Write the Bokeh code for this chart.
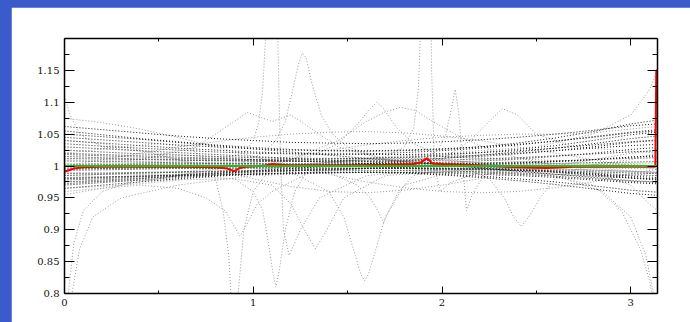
from bokeh.plotting import figure
from bokeh.models import Range1d, FixedTicker, LinearAxis, NumeralTickFormatter, GlobalInlineStyleSheet
from bokeh.embed import file_html
from bokeh.resources import INLINE

# ---------------- data ----------------
x_ticks = [0, 1, 2, 3]
x_minor = [0.5, 1.5, 2.5]
y_ticks = [0.8, 0.85, 0.9, 0.95, 1.0, 1.05, 1.1, 1.15]
y_minor = [0.825, 0.875, 0.925, 0.975, 1.025, 1.075, 1.125, 1.175]

grid_x = [0, 0.2, 0.4, 0.6, 0.8, 1.0, 1.2, 1.4, 1.6, 1.8, 2.0, 2.2, 2.4, 2.6, 2.8, 3.0, 3.1416]

black_1 = [1.062, 1.057, 1.052, 1.047, 1.043, 1.040, 1.037, 1.036, 1.035, 1.036, 1.038, 1.041, 1.045, 1.050, 1.056, 1.063, 1.066]
black_2 = [1.045, 1.041, 1.037, 1.033, 1.030, 1.027, 1.025, 1.024, 1.024, 1.025, 1.027, 1.030, 1.034, 1.039, 1.045, 1.052, 1.055]
black_3 = [1.035, 1.031, 1.028, 1.025, 1.022, 1.020, 1.019, 1.018, 1.019, 1.021, 1.024, 1.028, 1.033, 1.039, 1.046, 1.053, 1.057]
black_4 = [1.025, 1.022, 1.019, 1.017, 1.015, 1.013, 1.012, 1.012, 1.012, 1.013, 1.015, 1.017, 1.020, 1.024, 1.028, 1.032, 1.034]
black_5 = [1.015, 1.013, 1.011, 1.010, 1.009, 1.008, 1.007, 1.007, 1.007, 1.008, 1.009, 1.011, 1.013, 1.016, 1.019, 1.022, 1.024]
black_6 = [1.008, 1.007, 1.006, 1.005, 1.004, 1.004, 1.003, 1.003, 1.003, 1.004, 1.004, 1.005, 1.006, 1.008, 1.010, 1.012, 1.013]
black_7 = [0.993, 0.994, 0.995, 0.996, 0.996, 0.997, 0.997, 0.997, 0.997, 0.997, 0.996, 0.995, 0.994, 0.993, 0.991, 0.989, 0.988]
black_8 = [0.985, 0.987, 0.989, 0.990, 0.991, 0.992, 0.993, 0.993, 0.993, 0.993, 0.992, 0.991, 0.989, 0.987, 0.984, 0.981, 0.980]
black_9 = [0.975, 0.978, 0.981, 0.984, 0.986, 0.988, 0.989, 0.990, 0.990, 0.990, 0.989, 0.987, 0.985, 0.982, 0.978, 0.974, 0.972]
black_10 = [0.970, 0.974, 0.978, 0.982, 0.985, 0.987, 0.989, 0.990, 0.990, 0.989, 0.987, 0.984, 0.980, 0.975, 0.969, 0.962, 0.959]
black_11 = [1.050, 1.046, 1.042, 1.037, 1.032, 1.027, 1.022, 1.017, 1.012, 1.007, 1.002, 0.997, 0.992, 0.987, 0.982, 0.977, 0.975]
black_12 = [0.972, 0.976, 0.980, 0.984, 0.988, 0.992, 0.996, 1.000, 1.004, 1.008, 1.012, 1.017, 1.022, 1.028, 1.035, 1.043, 1.047]
black_13 = [1.020, 1.018, 1.016, 1.014, 1.012, 1.010, 1.008, 1.006, 1.004, 1.002, 1.000, 0.998, 0.995, 0.992, 0.988, 0.984, 0.982]
black_14 = [0.980, 0.982, 0.984, 0.986, 0.988, 0.990, 0.992, 0.994, 0.996, 0.998, 1.000, 1.002, 1.004, 1.007, 1.010, 1.014, 1.016]
black_15 = [1.030, 1.027, 1.024, 1.021, 1.018, 1.015, 1.012, 1.009, 1.007, 1.005, 1.004, 1.004, 1.005, 1.007, 1.010, 1.014, 1.016]
black_16 = [0.995, 0.996, 0.997, 0.998, 0.999, 1.000, 1.001, 1.002, 1.003, 1.004, 1.006, 1.008, 1.011, 1.015, 1.020, 1.026, 1.029]
black_17 = [1.040, 1.036, 1.032, 1.028, 1.025, 1.022, 1.020, 1.019, 1.018, 1.018, 1.019, 1.021, 1.024, 1.028, 1.033, 1.038, 1.041]
black_18 = [1.012, 1.011, 1.010, 1.009, 1.008, 1.008, 1.008, 1.008, 1.009, 1.010, 1.012, 1.015, 1.019, 1.024, 1.030, 1.037, 1.040]
black_19 = [0.988, 0.989, 0.990, 0.991, 0.992, 0.993, 0.994, 0.995, 0.996, 0.996, 0.996, 0.995, 0.993, 0.990, 0.986, 0.981, 0.978]
black_20 = [0.978, 0.980, 0.983, 0.986, 0.989, 0.991, 0.993, 0.995, 0.996, 0.997, 0.997, 0.996, 0.994, 0.991, 0.987, 0.982, 0.979]
black_21 = [1.003, 1.003, 1.003, 1.003, 1.003, 1.003, 1.003, 1.003, 1.003, 1.003, 1.003, 1.003, 1.003, 1.004, 1.005, 1.006, 1.007]
black_22 = [0.997, 0.997, 0.997, 0.997, 0.997, 0.997, 0.997, 0.996, 0.996, 0.996, 0.995, 0.994, 0.993, 0.991, 0.989, 0.986, 0.985]
black_23 = [1.055, 1.049, 1.043, 1.038, 1.033, 1.029, 1.026, 1.024, 1.023, 1.024, 1.026, 1.030, 1.036, 1.044, 1.054, 1.066, 1.072]
black_24 = [0.965, 0.970, 0.975, 0.980, 0.984, 0.987, 0.989, 0.990, 0.990, 0.989, 0.986, 0.982, 0.977, 0.971, 0.964, 0.957, 0.954]
black_25 = [1.018, 1.016, 1.014, 1.012, 1.011, 1.010, 1.010, 1.011, 1.012, 1.014, 1.017, 1.021, 1.026, 1.032, 1.040, 1.049, 1.053]
black_26 = [0.982, 0.983, 0.984, 0.985, 0.986, 0.987, 0.988, 0.989, 0.990, 0.990, 0.990, 0.989, 0.987, 0.984, 0.980, 0.976, 0.974]

gray_1 = [1.075, 1.068, 1.058, 1.045, 1.030, 1.015, 1.000, 0.987, 0.975, 0.966, 0.960, 0.958, 0.960, 0.966, 0.975, 0.988, 0.995]
gray_2 = [0.955, 0.965, 0.975, 0.985, 0.995, 1.005, 1.015, 1.025, 1.033, 1.040, 1.045, 1.048, 1.050, 1.050, 1.052, 1.058, 1.062]
gray_3 = [1.000, 1.010, 1.020, 1.030, 1.038, 1.045, 1.050, 1.053, 1.054, 1.052, 1.047, 1.040, 1.030, 1.020, 1.010, 1.000, 0.995]
gray_4 = [0.965, 0.968, 0.972, 0.978, 0.985, 0.993, 1.000, 1.006, 1.010, 1.012, 1.010, 1.005, 0.998, 0.990, 0.985, 0.985, 0.990]
gray_5 = [1.040, 1.035, 1.025, 1.010, 0.995, 0.980, 0.968, 0.960, 0.958, 0.962, 0.970, 0.980, 0.990, 1.000, 1.010, 1.020, 1.025]

spike_a_x = [0, 0.3, 0.5, 0.65, 0.75, 0.8, 0.84, 0.87, 0.885, 0.9, 0.92, 0.95, 1.0, 1.1, 1.3, 1.6, 2.0, 2.5, 3.1416]
spike_a_y = [1.02, 1.03, 1.035, 1.03, 1.01, 0.98, 0.93, 0.86, 0.78, 0.72, 0.80, 0.90, 0.96, 1.0, 1.02, 1.02, 1.015, 1.01, 1.0]
spike_b_x = [0, 0.4, 0.6, 0.75, 0.85, 0.9, 0.93, 0.96, 1.02, 1.1, 1.3, 1.7, 2.2, 3.1416]
spike_b_y = [0.96, 0.97, 0.965, 0.95, 0.93, 0.905, 0.89, 0.905, 0.94, 0.96, 0.99, 1.0, 1.0, 0.99]
spike_c_x = [0, 0.5, 0.8, 0.95, 1.0, 1.03, 1.05, 1.065, 1.08, 1.12, 1.13, 1.145, 1.16, 1.19, 1.25, 1.35, 1.6, 2.0, 2.6, 3.1416]
spike_c_y = [1.0, 1.005, 1.01, 1.02, 1.04, 1.07, 1.12, 1.2, 1.35, 1.35, 1.2, 1.0, 0.9, 0.86, 0.9, 0.95, 0.985, 0.995, 1.0, 1.0]
spike_d_x = [0, 0.6, 0.9, 1.0, 1.05, 1.08, 1.1, 1.12, 1.14, 1.17, 1.22, 1.3, 1.5, 2.0, 3.1416]
spike_d_y = [0.99, 0.985, 0.98, 0.96, 0.93, 0.88, 0.84, 0.81, 0.84, 0.9, 0.96, 1.0, 1.01, 1.005, 1.0]
spike_e_x = [0, 0.6, 0.9, 1.05, 1.12, 1.17, 1.21, 1.24, 1.26, 1.28, 1.31, 1.36, 1.42, 1.5, 1.7, 2.1, 2.6, 3.1416]
spike_e_y = [0.985, 0.99, 1.0, 1.02, 1.04, 1.07, 1.12, 1.16, 1.177, 1.17, 1.13, 1.08, 1.05, 1.03, 1.01, 1.0, 0.995, 0.99]
spike_f_x = [0, 0.8, 1.2, 1.4, 1.48, 1.53, 1.57, 1.59, 1.61, 1.65, 1.7, 1.8, 2.1, 2.6, 3.1416]
spike_f_y = [1.01, 1.005, 0.99, 0.96, 0.92, 0.87, 0.83, 0.82, 0.83, 0.87, 0.92, 0.97, 0.995, 1.0, 1.005]
spike_g_x = [0, 0.9, 1.1, 1.2, 1.27, 1.33, 1.39, 1.48, 1.7, 2.2, 3.1416]
spike_g_y = [0.975, 0.98, 0.97, 0.94, 0.9, 0.87, 0.9, 0.95, 0.985, 0.995, 1.0]
spike_h_x = [0, 0.8, 1.4, 1.7, 1.8, 1.85, 1.875, 1.89, 1.9, 1.935, 1.945, 1.96, 1.99, 2.05, 2.2, 2.6, 3.1416]
spike_h_y = [1.0, 1.0, 1.005, 1.015, 1.03, 1.06, 1.12, 1.25, 1.4, 1.4, 1.15, 1.0, 0.96, 0.975, 0.99, 0.995, 0.99]
spike_i_x = [0, 1.0, 1.6, 1.9, 1.98, 2.02, 2.05, 2.07, 2.09, 2.11, 2.13, 2.16, 2.22, 2.4, 2.8, 3.1416]
spike_i_y = [1.0, 1.0, 1.005, 1.01, 1.025, 1.05, 1.09, 1.12, 1.08, 1.0, 0.93, 0.955, 0.985, 1.0, 1.0, 1.0]
spike_j_x = [0, 1.0, 1.8, 2.1, 2.25, 2.33, 2.38, 2.42, 2.46, 2.52, 2.6, 2.75, 3.0, 3.1416]
spike_j_y = [0.995, 1.0, 1.005, 1.0, 0.98, 0.95, 0.92, 0.905, 0.92, 0.95, 0.98, 1.0, 1.01, 1.02]
spike_k_x = [0, 1.0, 1.4, 1.55, 1.62, 1.66, 1.69, 1.72, 1.77, 1.85, 2.0, 2.5, 3.1416]
spike_k_y = [1.0, 1.0, 0.99, 0.97, 0.95, 0.93, 0.911, 0.93, 0.96, 0.985, 0.995, 1.0, 1.0]
spike_l_x = [0, 1.0, 1.3, 1.45, 1.55, 1.62, 1.655, 1.69, 1.76, 1.85, 2.0, 2.5, 3.1416]
spike_l_y = [1.0, 1.005, 1.015, 1.035, 1.065, 1.09, 1.10, 1.09, 1.06, 1.035, 1.015, 1.005, 1.0]
spike_m_x = [0, 0.8, 1.2, 1.45, 1.6, 1.7, 1.78, 1.86, 1.95, 2.1, 2.3, 2.6, 3.1416]
spike_m_y = [0.98, 0.99, 1.01, 1.04, 1.07, 1.085, 1.092, 1.087, 1.07, 1.045, 1.02, 1.0, 0.99]
spike_n_x = [0, 0.4, 0.7, 0.85, 0.97, 1.05, 1.1, 1.2, 1.3, 1.45, 1.7, 2.2, 3.1416]
spike_n_y = [1.0, 1.01, 1.03, 1.06, 1.084, 1.075, 1.07, 1.08, 1.06, 1.03, 1.01, 1.0, 0.99]
spike_o_x = [0, 1.5, 2.0, 2.15, 2.25, 2.32, 2.4, 2.5, 2.7, 3.1416]
spike_o_y = [1.0, 1.0, 1.01, 1.04, 1.07, 1.09, 1.08, 1.05, 1.03, 1.02]

edge_l1_x = [0, 0.02, 0.05, 0.1, 0.2, 0.4, 0.8, 1.5, 2.5, 3.1416]
edge_l1_y = [0.75, 0.8, 0.88, 0.93, 0.96, 0.98, 0.99, 1.0, 1.0, 0.995]
edge_l2_x = [0, 0.04, 0.08, 0.15, 0.3, 0.6, 1.0, 2.0, 3.1416]
edge_l2_y = [0.7, 0.8, 0.87, 0.92, 0.95, 0.97, 0.985, 0.995, 1.0]
edge_l3_x = [0, 0.03, 0.08, 0.2, 0.5, 1.0, 2.0, 3.1416]
edge_l3_y = [1.11, 1.08, 1.05, 1.03, 1.02, 1.01, 1.0, 1.0]
edge_r1_x = [0, 1.5, 2.5, 2.8, 2.95, 3.05, 3.1, 3.1416]
edge_r1_y = [1.0, 1.0, 0.99, 0.97, 0.93, 0.87, 0.82, 0.75]
edge_r2_x = [0, 1.5, 2.6, 2.85, 3.0, 3.08, 3.12, 3.1416]
edge_r2_y = [1.0, 1.0, 0.985, 0.96, 0.92, 0.86, 0.8, 0.76]
edge_r3_x = [0, 1.5, 2.5, 2.8, 3.0, 3.1, 3.1416]
edge_r3_y = [1.0, 1.01, 1.03, 1.05, 1.08, 1.12, 1.15]
edge_r4_x = [0, 1.5, 2.7, 3.0, 3.1, 3.1416]
edge_r4_y = [1.0, 1.0, 1.0, 0.97, 0.94, 0.93]

red_x = [0, 0.05, 0.1, 0.2, 0.4, 0.6, 0.8, 0.86, 0.9, 0.93, 0.97, 1.05, 1.1, 1.14, 1.2, 1.3, 1.5, 1.7, 1.85, 1.89, 1.92, 1.95, 2.0, 2.2, 2.4, 2.55, 2.7, 3.0, 3.13, 3.135, 3.1416]
red_y = [0.991, 0.996, 0.998, 0.999, 0.999, 0.999, 0.998, 0.996, 0.992, 0.997, 0.999, 1.000, 1.003, 1.002, 1.001, 1.001, 1.001, 1.002, 1.003, 1.006, 1.012, 1.004, 1.003, 1.001, 0.998, 0.997, 0.999, 0.999, 0.999, 1.15, 1.15]
green_x = [0, 3.1416]
green_y = [1.0, 1.0]

# ---------------- figure ----------------
FONT = "DejaVu Serif"
p = figure(width=679, height=315, x_range=Range1d(0, 3.14159), y_range=Range1d(0.8, 1.2),
           output_backend="svg", toolbar_location=None,
           min_border_left=53, min_border_right=33, min_border_top=31, min_border_bottom=29,
           background_fill_color="white", border_fill_color="white")
p.outline_line_color = None
p.xgrid.visible = False
p.ygrid.visible = False
p.stylesheets = [GlobalInlineStyleSheet(css="html,body{margin:0;padding:0;background:#3a5bc9;overflow:hidden;} body{padding:7px 0 0 11px;}")]

p.add_layout(LinearAxis(), "right")
p.add_layout(LinearAxis(), "above")

for ax in p.xaxis:
    ax.ticker = FixedTicker(ticks=x_ticks, minor_ticks=x_minor)
    ax.major_tick_in = 7
    ax.minor_tick_in = 3
for ax in p.yaxis:
    ax.ticker = FixedTicker(ticks=y_ticks, minor_ticks=y_minor)
    ax.formatter = NumeralTickFormatter(format="0.[00]")
    ax.major_tick_in = 10
    ax.minor_tick_in = 5
for ax in p.axis:
    ax.axis_line_color = "black"
    ax.axis_line_width = 1.5
    ax.major_tick_out = 0
    ax.minor_tick_out = 0
    ax.major_tick_line_color = "black"
    ax.minor_tick_line_color = "black"
    ax.major_tick_line_width = 1
    ax.minor_tick_line_width = 1
    ax.major_label_text_font = FONT
    ax.major_label_text_font_size = "10px"
    ax.major_label_text_color = "#111111"
p.xaxis[0].major_label_standoff = 3
p.yaxis[0].major_label_standoff = 5
for ax in (p.right[0], p.above[0]):
    ax.major_label_text_alpha = 0
    ax.major_label_text_font_size = "1px"

gray_sets = [(grid_x, gray_1), (grid_x, gray_2), (grid_x, gray_3), (grid_x, gray_4), (grid_x, gray_5),
             (spike_a_x, spike_a_y), (spike_b_x, spike_b_y), (spike_c_x, spike_c_y), (spike_d_x, spike_d_y),
             (spike_e_x, spike_e_y), (spike_f_x, spike_f_y), (spike_g_x, spike_g_y), (spike_h_x, spike_h_y),
             (spike_i_x, spike_i_y), (spike_j_x, spike_j_y), (spike_k_x, spike_k_y), (spike_l_x, spike_l_y),
             (spike_m_x, spike_m_y), (spike_n_x, spike_n_y), (spike_o_x, spike_o_y),
             (edge_l1_x, edge_l1_y), (edge_l2_x, edge_l2_y), (edge_l3_x, edge_l3_y),
             (edge_r1_x, edge_r1_y), (edge_r2_x, edge_r2_y), (edge_r3_x, edge_r3_y), (edge_r4_x, edge_r4_y)]
p.multi_line([s[0] for s in gray_sets], [s[1] for s in gray_sets],
             line_color="#999999", line_width=1, line_dash="1 2")

black_sets = [black_1, black_2, black_3, black_4, black_5, black_6, black_7, black_8,
              black_9, black_10, black_11, black_12, black_13, black_14, black_15, black_16,
              black_17, black_18, black_19, black_20, black_21, black_22, black_23, black_24,
              black_25, black_26]
p.multi_line([grid_x] * len(black_sets), black_sets, line_color="#1a1a1a", line_width=1, line_dash="1 2")

p.line(red_x, red_y, line_color="#ff0000", line_width=2)
p.line(green_x, green_y, line_color="#22bb22", line_width=2)

open("out.html", "w").write(file_html(p, INLINE))
